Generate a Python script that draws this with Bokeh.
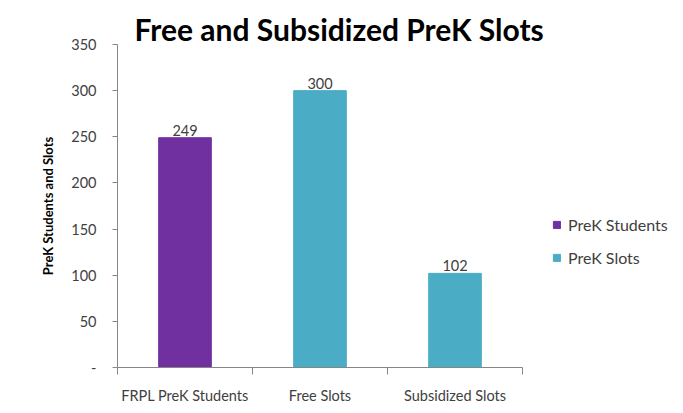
from bokeh.plotting import figure
from bokeh.models import ColumnDataSource, FixedTicker, Range1d, Legend, LegendItem, LabelSet
from bokeh.core.properties import value
from bokeh.embed import file_html
from bokeh.resources import INLINE

categories = ["FRPL PreK Students", "Free Slots", "Subsidized Slots"]
values = [249, 300, 102]
series = ["PreK Students", "PreK Slots", "PreK Slots"]
colors = ["#7030A0", "#4BACC6", "#4BACC6"]
y_ticks = [0, 50, 100, 150, 200, 250, 300, 350]
y_tick_labels = ["-", "50", "100", "150", "200", "250", "300", "350"]

FONT = "Lato"
xs = [i + 0.5 for i in range(len(categories))]
src = ColumnDataSource(dict(x=xs, top=values, color=colors, series=series,
                            label=[str(v) for v in values]))

p = figure(frame_width=405, frame_height=323, output_backend="svg", toolbar_location=None,
           x_range=Range1d(0, len(categories)), y_range=Range1d(0, 350),
           min_border_left=117, min_border_right=145, min_border_top=44, min_border_bottom=30)

p.title.text = "Free and Subsidized PreK Slots"
p.title.text_font = FONT
p.title.text_font_size = "30px"
p.title.text_font_style = "bold"
p.title.text_color = "#000000"
p.title.align = "left"
p.title.offset = 17
p.title.standoff = -4

r = p.vbar(x="x", top="top", width=0.39, color="color", source=src)

p.add_layout(LabelSet(x="x", y="top", text="label", source=src, y_offset=2,
                      text_align="center", text_font=value(FONT), text_font_size="14.5px",
                      text_color="#404040"))

# x axis: ticks at category boundaries, labels at centers
p.xaxis.ticker = FixedTicker(ticks=xs, minor_ticks=list(range(len(categories) + 1)))
p.xaxis.major_label_overrides = {x: c for x, c in zip(xs, categories)}
p.xaxis.major_tick_line_color = None
p.xaxis.minor_tick_line_color = "#868686"
p.xaxis.minor_tick_out = 7
p.xaxis.minor_tick_in = 0
p.xaxis.axis_line_color = "#868686"
p.xaxis.major_label_text_font = FONT
p.xaxis.major_label_text_font_size = "14.5px"
p.xaxis.major_label_text_color = "#404040"
p.xaxis.major_label_standoff = 12

p.yaxis.ticker = FixedTicker(ticks=y_ticks, minor_ticks=[])
p.yaxis.major_label_overrides = {t: l for t, l in zip(y_ticks, y_tick_labels)}
p.yaxis.axis_line_color = "#868686"
p.yaxis.major_tick_line_color = "#868686"
p.yaxis.major_tick_out = 5
p.yaxis.major_tick_in = 0
p.yaxis.major_label_text_font = FONT
p.yaxis.major_label_text_font_size = "14.5px"
p.yaxis.major_label_text_color = "#404040"
p.yaxis.major_label_standoff = 16
p.yaxis.axis_label = "PreK Students and Slots"
p.yaxis.axis_label_text_font = FONT
p.yaxis.axis_label_text_font_size = "13px"
p.yaxis.axis_label_text_font_style = "bold"
p.yaxis.axis_label_text_color = "#000000"
p.yaxis.axis_label_standoff = 12

p.xgrid.grid_line_color = None
p.ygrid.grid_line_color = None
p.outline_line_color = None

legend = Legend(items=[LegendItem(label=series[0], renderers=[r], index=0),
                       LegendItem(label=series[1], renderers=[r], index=1)],
                location=(30, 100), border_line_color=None, background_fill_alpha=0,
                label_text_font=FONT, label_text_font_size="16px", label_text_color="#404040",
                glyph_width=9, glyph_height=9, spacing=14, margin=0, padding=0,
                label_standoff=7)
p.add_layout(legend, "right")

open("out.html", "w").write(file_html(p, INLINE))
